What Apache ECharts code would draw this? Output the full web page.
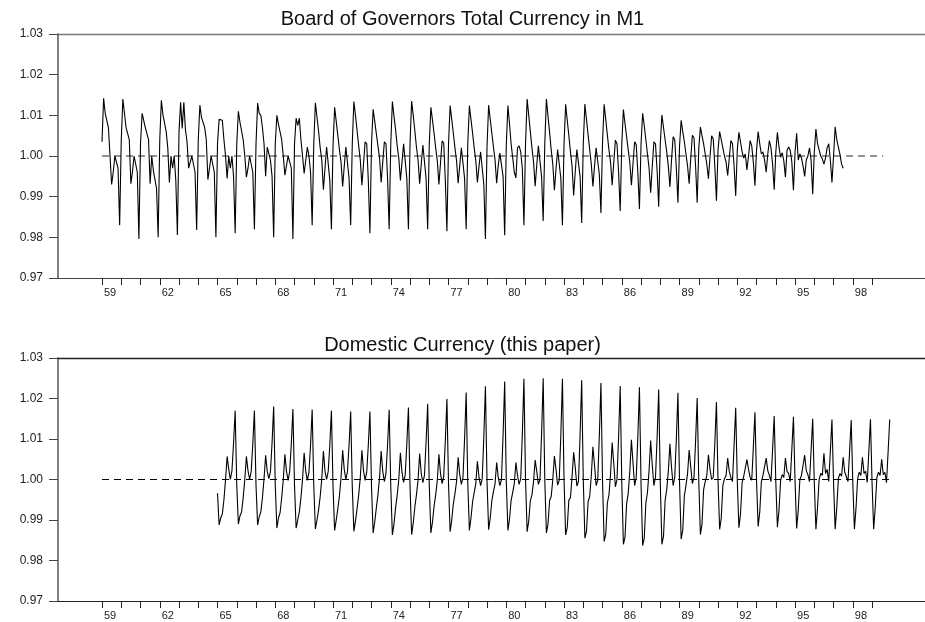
<!DOCTYPE html>
<html>
<head>
<meta charset="utf-8">
<script src="https://cdn.jsdelivr.net/npm/echarts@6/dist/echarts.min.js"></script>
<style>
  html, body { margin: 0; padding: 0; background: #fff; }
  #chart { width: 925px; height: 622px; }
</style>
</head>
<body>
<div id="chart"></div>
<script>
// ---- data (monthly seasonal factors) ----
const boardTitle = 'Board of Governors Total Currency in M1';
const domesticTitle = 'Domestic Currency (this paper)';
const boardStartYear = 1959;     // Jan 1959 .. Jul 1997
const domesticStartYear = 1965;  // Jan 1965 .. Dec 1999
const refLevel = 1.0;
const refStart = 1959;
const boardRefEnd = 1999.58;
const domesticRefEnd = 1999.92;

const boardFactors = [
  1.0035, 1.0142, 1.0105, 1.0105, 1.0070, 1.0070, 0.9930, 0.9960, 1.0000, 1.0000, 0.9970, 0.9830, // 1959
  1.0040, 1.0140, 1.0105, 1.0070, 1.0070, 1.0040, 0.9932, 0.9962, 1.0000, 1.0000, 0.9960, 0.9796, // 1960
  1.0030, 1.0105, 1.0105, 1.0070, 1.0070, 1.0040, 0.9932, 1.0000, 0.9965, 0.9965, 0.9920, 0.9800, // 1961
  1.0040, 1.0137, 1.0101, 1.0100, 1.0060, 1.0020, 0.9935, 1.0000, 0.9970, 1.0000, 0.9940, 0.9806, // 1962
  1.0060, 1.0132, 1.0068, 1.0132, 1.0065, 1.0035, 0.9970, 0.9970, 1.0000, 1.0000, 0.9960, 0.9818, // 1963
  1.0040, 1.0125, 1.0095, 1.0093, 1.0070, 1.0040, 0.9942, 0.9970, 1.0000, 1.0000, 0.9960, 0.9800, // 1964
  1.0030, 1.0090, 1.0090, 1.0088, 1.0040, 1.0000, 0.9945, 1.0000, 0.9970, 1.0000, 0.9950, 0.9810, // 1965
  1.0030, 1.0110, 1.0083, 1.0083, 1.0040, 1.0000, 0.9948, 0.9970, 1.0000, 1.0000, 0.9960, 0.9820, // 1966
  1.0030, 1.0130, 1.0105, 1.0100, 1.0070, 1.0030, 0.9950, 1.0022, 1.0025, 0.9990, 0.9950, 0.9800, // 1967
  1.0030, 1.0100, 1.0078, 1.0076, 1.0040, 1.0000, 0.9953, 0.9953, 1.0000, 1.0000, 0.9970, 0.9796, // 1968
  1.0030, 1.0093, 1.0075, 1.0093, 1.0040, 1.0000, 0.9957, 0.9957, 1.0022, 1.0000, 0.9960, 0.9830, // 1969
  1.0030, 1.0131, 1.0096, 1.0061, 1.0020, 0.9990, 0.9917, 0.9970, 1.0022, 1.0019, 0.9940, 0.9820, // 1970
  1.0025, 1.0120, 1.0085, 1.0050, 1.0015, 0.9985, 0.9925, 0.9975, 1.0022, 1.0018, 0.9945, 0.9830, // 1971
  1.0030, 1.0134, 1.0100, 1.0062, 1.0025, 0.9990, 0.9928, 0.9980, 1.0035, 1.0030, 0.9940, 0.9810, // 1972
  1.0030, 1.0115, 1.0085, 1.0055, 1.0025, 0.9995, 0.9935, 0.9985, 1.0035, 1.0030, 0.9945, 0.9820, // 1973
  1.0030, 1.0134, 1.0098, 1.0065, 1.0025, 0.9995, 0.9940, 0.9985, 1.0030, 1.0028, 0.9945, 0.9820, // 1974
  1.0030, 1.0135, 1.0100, 1.0062, 1.0022, 0.9990, 0.9932, 0.9980, 1.0027, 1.0025, 0.9945, 0.9820, // 1975
  1.0030, 1.0120, 1.0088, 1.0055, 1.0020, 0.9988, 0.9930, 0.9983, 1.0037, 1.0032, 0.9940, 0.9815, // 1976
  1.0030, 1.0124, 1.0090, 1.0056, 1.0020, 0.9988, 0.9933, 0.9977, 1.0020, 1.0018, 0.9945, 0.9820, // 1977
  1.0030, 1.0124, 1.0090, 1.0056, 1.0020, 0.9988, 0.9935, 0.9975, 1.0010, 1.0008, 0.9930, 0.9796, // 1978
  1.0025, 1.0125, 1.0090, 1.0056, 1.0022, 0.9990, 0.9933, 0.9977, 1.0007, 1.0007, 0.9950, 0.9805, // 1979
  1.0025, 1.0124, 1.0080, 1.0030, 0.9996, 0.9960, 0.9946, 1.0020, 1.0025, 1.0010, 0.9970, 0.9830, // 1980
  1.0030, 1.0140, 1.0100, 1.0060, 1.0020, 0.9985, 0.9926, 0.9978, 1.0025, 1.0022, 0.9950, 0.9840, // 1981
  1.0030, 1.0140, 1.0098, 1.0058, 1.0015, 0.9980, 0.9916, 0.9968, 1.0016, 1.0014, 0.9945, 0.9830, // 1982
  1.0030, 1.0127, 1.0088, 1.0050, 1.0010, 0.9975, 0.9903, 0.9962, 1.0016, 1.0012, 0.9950, 0.9835, // 1983
  1.0030, 1.0128, 1.0090, 1.0052, 1.0015, 0.9980, 0.9925, 0.9975, 1.0020, 1.0016, 0.9955, 0.9860, // 1984
  1.0035, 1.0127, 1.0090, 1.0052, 1.0015, 0.9985, 0.9928, 0.9985, 1.0039, 1.0030, 0.9960, 0.9865, // 1985
  1.0030, 1.0114, 1.0080, 1.0048, 1.0015, 0.9985, 0.9928, 0.9982, 1.0035, 1.0028, 0.9960, 0.9870, // 1986
  1.0030, 1.0105, 1.0075, 1.0040, 1.0005, 0.9970, 0.9910, 0.9975, 1.0035, 1.0030, 0.9965, 0.9875, // 1987
  1.0030, 1.0101, 1.0070, 1.0040, 1.0010, 0.9975, 0.9924, 0.9990, 1.0047, 1.0040, 0.9970, 0.9885, // 1988
  1.0025, 1.0088, 1.0060, 1.0035, 1.0005, 0.9975, 0.9932, 0.9995, 1.0051, 1.0045, 0.9975, 0.9885, // 1989
  1.0020, 1.0071, 1.0050, 1.0030, 1.0005, 0.9980, 0.9944, 0.9998, 1.0050, 1.0042, 0.9975, 0.9890, // 1990
  1.0015, 1.0060, 1.0040, 1.0020, 1.0000, 0.9985, 0.9952, 0.9995, 1.0038, 1.0030, 0.9975, 0.9902, // 1991
  1.0015, 1.0058, 1.0035, 1.0010, 0.9995, 1.0005, 0.9966, 1.0000, 1.0038, 1.0025, 0.9985, 0.9927, // 1992
  1.0015, 1.0060, 1.0030, 1.0005, 1.0010, 0.9990, 0.9960, 1.0005, 1.0038, 1.0020, 0.9980, 0.9917, // 1993
  1.0010, 1.0058, 1.0022, 0.9997, 1.0008, 0.9988, 0.9948, 1.0014, 1.0022, 1.0014, 0.9985, 0.9916, // 1994
  1.0010, 1.0056, 0.9990, 1.0005, 0.9995, 0.9975, 0.9950, 0.9990, 1.0000, 1.0020, 0.9990, 0.9906, // 1995
  1.0010, 1.0066, 1.0031, 1.0015, 1.0000, 0.9993, 0.9980, 0.9995, 1.0020, 1.0030, 0.9990, 0.9935, // 1996
  1.0000, 1.0072, 1.0040, 1.0022, 1.0004, 0.9980, 0.9970                                          // 1997
];

const domesticFactors = [
  0.9966, 0.9888, 0.9905, 0.9915, 0.9950, 1.0000, 1.0057, 1.0025, 1.0000, 1.0022, 1.0090, 1.0170, // 1965
  0.9985, 0.9890, 0.9910, 0.9920, 0.9955, 1.0000, 1.0057, 1.0022, 1.0000, 1.0020, 1.0088, 1.0170, // 1966
  0.9985, 0.9888, 0.9908, 0.9920, 0.9955, 1.0002, 1.0060, 1.0020, 1.0002, 1.0020, 1.0090, 1.0180, // 1967
  0.9985, 0.9880, 0.9905, 0.9918, 0.9955, 1.0000, 1.0062, 1.0020, 0.9998, 1.0020, 1.0088, 1.0174, // 1968
  0.9985, 0.9880, 0.9900, 0.9920, 0.9955, 1.0000, 1.0066, 1.0020, 0.9998, 1.0018, 1.0085, 1.0173, // 1969
  0.9985, 0.9878, 0.9900, 0.9925, 0.9958, 1.0002, 1.0070, 1.0020, 1.0000, 1.0020, 1.0085, 1.0170, // 1970
  0.9983, 0.9874, 0.9900, 0.9928, 0.9960, 1.0005, 1.0072, 1.0025, 1.0000, 1.0020, 1.0085, 1.0168, // 1971
  0.9983, 0.9872, 0.9898, 0.9928, 0.9962, 1.0005, 1.0072, 1.0022, 0.9998, 1.0018, 1.0085, 1.0168, // 1972
  0.9982, 0.9868, 0.9895, 0.9930, 0.9962, 1.0005, 1.0070, 1.0020, 0.9995, 1.0015, 1.0085, 1.0172, // 1973
  0.9982, 0.9863, 0.9890, 0.9930, 0.9962, 1.0000, 1.0066, 1.0018, 0.9993, 1.0012, 1.0088, 1.0178, // 1974
  0.9983, 0.9864, 0.9892, 0.9932, 0.9962, 0.9998, 1.0064, 1.0015, 0.9992, 1.0010, 1.0092, 1.0187, // 1975
  0.9985, 0.9868, 0.9895, 0.9935, 0.9962, 0.9998, 1.0062, 1.0015, 0.9990, 1.0008, 1.0095, 1.0199, // 1976
  0.9988, 0.9871, 0.9900, 0.9940, 0.9965, 0.9995, 1.0055, 1.0012, 0.9988, 1.0005, 1.0100, 1.0215, // 1977
  0.9992, 0.9874, 0.9905, 0.9945, 0.9968, 0.9990, 1.0045, 1.0005, 0.9985, 1.0002, 1.0105, 1.0230, // 1978
  0.9995, 0.9876, 0.9905, 0.9948, 0.9970, 0.9990, 1.0042, 1.0005, 0.9985, 1.0000, 1.0110, 1.0242, // 1979
  0.9998, 0.9874, 0.9902, 0.9948, 0.9968, 0.9990, 1.0042, 1.0010, 0.9988, 1.0002, 1.0112, 1.0249, // 1980
  1.0000, 0.9871, 0.9898, 0.9948, 0.9962, 0.9995, 1.0048, 1.0020, 0.9988, 1.0000, 1.0112, 1.0250, // 1981
  1.0000, 0.9868, 0.9890, 0.9948, 0.9958, 1.0000, 1.0058, 1.0025, 0.9986, 0.9998, 1.0110, 1.0249, // 1982
  1.0000, 0.9863, 0.9882, 0.9949, 0.9955, 1.0006, 1.0067, 1.0030, 0.9984, 0.9995, 1.0110, 1.0245, // 1983
  0.9998, 0.9855, 0.9872, 0.9945, 0.9958, 1.0010, 1.0081, 1.0035, 0.9985, 0.9998, 1.0108, 1.0238, // 1984
  0.9995, 0.9847, 0.9865, 0.9942, 0.9962, 1.0015, 1.0091, 1.0040, 0.9982, 1.0000, 1.0105, 1.0231, // 1985
  0.9992, 0.9840, 0.9858, 0.9940, 0.9965, 1.0020, 1.0098, 1.0040, 0.9985, 1.0005, 1.0105, 1.0228, // 1986
  0.9990, 0.9837, 0.9855, 0.9942, 0.9968, 1.0022, 1.0096, 1.0035, 0.9985, 1.0005, 1.0102, 1.0222, // 1987
  0.9990, 0.9840, 0.9860, 0.9948, 0.9975, 1.0020, 1.0088, 1.0030, 0.9985, 1.0005, 1.0100, 1.0214, // 1988
  0.9992, 0.9853, 0.9875, 0.9960, 0.9985, 1.0015, 1.0073, 1.0030, 0.9990, 1.0005, 1.0095, 1.0201, // 1989
  0.9995, 0.9864, 0.9890, 0.9975, 0.9995, 1.0010, 1.0061, 1.0025, 1.0000, 1.0005, 1.0090, 1.0191, // 1990
  0.9995, 0.9877, 0.9905, 0.9985, 1.0002, 1.0010, 1.0053, 1.0020, 1.0005, 0.9995, 1.0085, 1.0177, // 1991
  0.9995, 0.9881, 0.9915, 0.9992, 1.0008, 1.0005, 1.0049, 1.0025, 1.0005, 0.9998, 1.0080, 1.0166, // 1992
  0.9995, 0.9884, 0.9920, 0.9995, 1.0010, 1.0008, 1.0053, 1.0022, 1.0010, 0.9995, 1.0075, 1.0157, // 1993
  0.9995, 0.9882, 0.9925, 0.9998, 1.0012, 1.0005, 1.0053, 1.0020, 1.0015, 0.9995, 1.0075, 1.0155, // 1994
  0.9995, 0.9879, 0.9925, 1.0000, 1.0010, 1.0012, 1.0060, 1.0022, 1.0012, 0.9995, 1.0072, 1.0150, // 1995
  0.9992, 0.9877, 0.9930, 1.0000, 1.0015, 1.0010, 1.0065, 1.0015, 1.0025, 0.9995, 1.0070, 1.0148, // 1996
  0.9992, 0.9877, 0.9930, 1.0002, 1.0015, 1.0008, 1.0055, 1.0018, 1.0022, 0.9995, 1.0070, 1.0147, // 1997
  0.9992, 0.9877, 0.9930, 1.0002, 1.0018, 1.0010, 1.0055, 1.0015, 1.0020, 0.9993, 1.0070, 1.0149, // 1998
  0.9992, 0.9877, 0.9932, 1.0005, 1.0018, 1.0010, 1.0050, 1.0012, 1.0018, 0.9992, 1.0068, 1.0148  // 1999
];

const tickYears = [1959,1960,1961,1962,1963,1964,1965,1966,1967,1968,1969,1970,1971,1972,1973,1974,1975,1976,1977,1978,1979,1980,1981,1982,1983,1984,1985,1986,1987,1988,1989,1990,1991,1992,1993,1994,1995,1996,1997,1998,1999];
const labelYears = [1959,1962,1965,1968,1971,1974,1977,1980,1983,1986,1989,1992,1995,1998];
const tickLabels = ['59','62','65','68','71','74','77','80','83','86','89','92','95','98'];
const yMin = 0.97, yMax = 1.03, yStep = 0.01;

// ---- build ----
const xMin = 1956.714, xMax = 2001.75;
const labelOffset = 0.42;
function toPoints(start, arr) {
  return arr.map((v, i) => [start + i / 12, v]);
}
const labelPos = labelYears.map(y => y + labelOffset);
const FONT = '"Liberation Sans", Arial, Helvetica, sans-serif';

function xAxisBottom(gridIndex, lineColor) {
  return {
    type: 'value', gridIndex, position: 'bottom', min: xMin, max: xMax,
    axisLine: { show: true, onZero: false, lineStyle: { color: lineColor, width: 1 } },
    axisTick: { show: true, customValues: tickYears, length: 7, lineStyle: { color: '#222', width: 1 } },
    axisLabel: {
      show: true, customValues: labelPos, margin: 9, fontSize: 11, color: '#222', fontFamily: FONT,
      formatter: v => { const i = labelPos.findIndex(p => Math.abs(p - v) < 1e-6); return i >= 0 ? tickLabels[i] : ''; }
    },
    splitLine: { show: false }
  };
}
function xAxisTop(gridIndex, lineColor) {
  return {
    type: 'value', gridIndex, position: 'top', min: xMin, max: xMax,
    axisLine: { show: true, onZero: false, lineStyle: { color: lineColor, width: 1.3 } },
    axisTick: { show: false }, axisLabel: { show: false }, splitLine: { show: false }
  };
}
function yAxis(gridIndex) {
  return {
    type: 'value', gridIndex, min: yMin, max: yMax, interval: yStep,
    axisLine: { show: true, onZero: false, lineStyle: { color: '#808080', width: 2 } },
    axisTick: { show: true, length: 9, lineStyle: { color: '#444', width: 1 } },
    axisLabel: { margin: 15, fontSize: 12, color: '#222', fontFamily: FONT, formatter: v => v.toFixed(2) },
    splitLine: { show: false }
  };
}

const chart = echarts.init(document.getElementById('chart'), null, { renderer: 'canvas' });
chart.setOption({
  animation: false,
  backgroundColor: '#fff',
  title: [
    { text: boardTitle, left: 'center', top: 4, textStyle: { fontSize: 20, fontWeight: 'normal', color: '#111', fontFamily: FONT } },
    { text: domesticTitle, left: 'center', top: 330, textStyle: { fontSize: 20, fontWeight: 'normal', color: '#111', fontFamily: FONT } }
  ],
  grid: [
    { left: 58, right: 0, top: 34, height: 244 },
    { left: 58, right: 0, top: 358, height: 243 }
  ],
  xAxis: [ xAxisBottom(0, '#444'), xAxisTop(0, '#777'), xAxisBottom(1, '#222'), xAxisTop(1, '#222') ],
  yAxis: [ yAxis(0), yAxis(1) ],
  series: [
    { type: 'line', xAxisIndex: 0, yAxisIndex: 0, data: [[refStart, refLevel], [boardRefEnd, refLevel]],
      showSymbol: false, lineStyle: { color: '#707070', width: 1.5, type: [7, 5] }, z: 1 },
    { type: 'line', xAxisIndex: 0, yAxisIndex: 0, data: toPoints(boardStartYear, boardFactors),
      showSymbol: false, lineStyle: { color: '#000', width: 1.1 }, z: 2 },
    { type: 'line', xAxisIndex: 2, yAxisIndex: 1, data: [[refStart, refLevel], [domesticRefEnd, refLevel]],
      showSymbol: false, lineStyle: { color: '#000', width: 1, type: [7, 5] }, z: 1 },
    { type: 'line', xAxisIndex: 2, yAxisIndex: 1, data: toPoints(domesticStartYear, domesticFactors),
      showSymbol: false, lineStyle: { color: '#000', width: 1.1 }, z: 2 }
  ]
});
</script>
</body>
</html>
